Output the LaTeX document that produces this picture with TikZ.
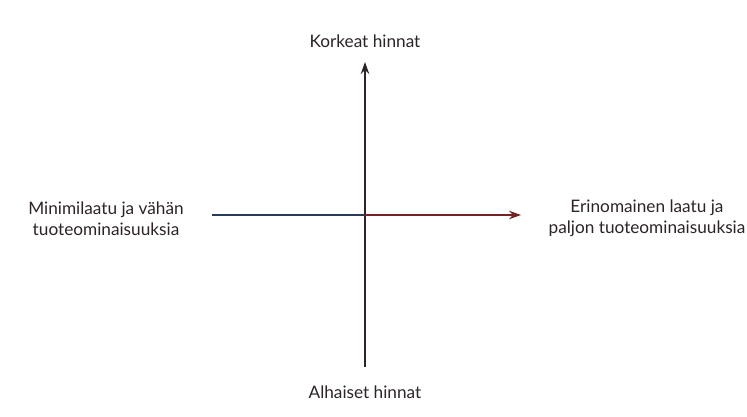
\documentclass[tikz,border=0pt]{standalone}
\usepackage{fontspec}
\setmainfont{Lato}
\usepackage{tikz}
\usetikzlibrary{positioning,arrows.meta}
\usepackage{xcolor}
\definecolor{axisblue}{RGB}{40,60,90}
\definecolor{axisred}{RGB}{115,35,35}
\definecolor{axisdark}{RGB}{45,35,40}

\begin{document}
\begin{tikzpicture}[>={Stealth[length=2.4mm,width=1.7mm]}]
\useasboundingbox (0,0) rectangle (14.94,8.34);
\coordinate (O) at (7.30,4.04);
\coordinate (top) at (7.30,7.10);
\coordinate (bot) at (7.30,1.00);
\coordinate (west) at (4.24,4.04);
\coordinate (east) at (10.42,4.04);
\node[font=\fontsize{9.8}{11.8}\selectfont,text=axisdark] (high) at (7.30,7.52) {Korkeat hinnat};
\node[font=\fontsize{9.8}{11.8}\selectfont,text=axisdark] (low) at (7.30,0.50) {Alhaiset hinnat};
\node[font=\fontsize{9.8}{11.8}\selectfont,text=axisdark,align=center] (minq) at (2.12,3.97) {Minimilaatu ja vähän\\tuoteominaisuuksia};
\node[font=\fontsize{9.8}{11.8}\selectfont,text=axisdark,align=center] (maxq) at (12.94,3.97) {Erinomainen laatu ja\\paljon tuoteominaisuuksia};
\draw[->,axisdark,line width=0.9pt] (bot) -- (top);
\draw[axisblue,line width=0.9pt] (west) -- (O);
\draw[->,axisred,line width=0.9pt] (O) -- (east);
\end{tikzpicture}
\end{document}
